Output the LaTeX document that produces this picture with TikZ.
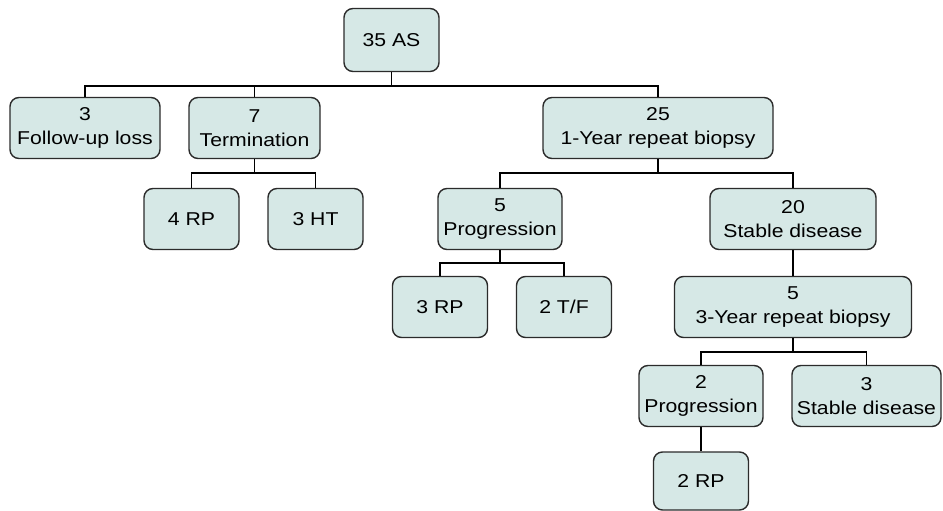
\documentclass[tikz,border=0pt]{standalone}
\usepackage{fontspec}
\setmainfont{Liberation Sans}[FakeStretch=1.14]
\definecolor{boxfill}{HTML}{D6E8E6}
\definecolor{boxline}{HTML}{2B2B2B}

\begin{document}
\begin{tikzpicture}[
    x=1pt, y=-1pt,
    box/.style={rectangle, rounded corners=9pt, draw=boxline, fill=boxfill, line width=1.4pt,
        minimum width=#1, minimum height=61pt, inner sep=2pt, align=center,
        font=\fontsize{18.6}{24}\selectfont},
    link/.style={line width=1.5pt, draw=black}
]
\useasboundingbox (0,0) rectangle (943,511);

% root and first level
\node[box=95pt, minimum height=63pt] (AS) at (391.5, 40) {35 AS};
\node[box=150pt] (FL)   at ( 85.0, 128) {3\\Follow-up loss};
\node[box=131pt] (Term) at (254.5, 128) {7\\Termination};
\node[box=230pt] (Y1)   at (658.0, 128) {25\\1-Year repeat biopsy};

% second level
\node[box=95pt]  (RP4)   at (191.5, 219) {4 RP};
\node[box=95pt]  (HT3)   at (315.5, 219) {3 HT};
\node[box=124pt] (Prog5) at (500.0, 219) {5\\Progression};
\node[box=166pt] (Stab20) at (793.0, 219) {20\\Stable disease};

% third level
\node[box=95pt]  (RP3) at (440.0, 307) {3 RP};
\node[box=95pt]  (TF2) at (564.0, 307) {2 T/F};
\node[box=237pt] (Y3)  at (793.0, 307) {5\\3-Year repeat biopsy};

% fourth level
\node[box=124pt] (Prog2) at (701.0, 396) {2\\Progression};
\node[box=149pt] (Stab3) at (866.5, 396) {3\\Stable disease};
\node[box=95pt, minimum height=58pt] (RP2) at (701.0, 481) {2 RP};

% connectors
\draw[link] (AS.south) -- ++(0,14) -| (FL.north);
\draw[link] (AS.south) ++(0,14) -| (Term.north);
\draw[link] (AS.south) ++(0,14) -| (Y1.north);

\draw[link] (Term.south) -- ++(0,14) -| (RP4.north);
\draw[link] (Term.south) ++(0,14) -| (HT3.north);

\draw[link] (Y1.south) -- ++(0,14) -| (Prog5.north);
\draw[link] (Y1.south) ++(0,14) -| (Stab20.north);

\draw[link] (Prog5.south) -- ++(0,13) -| (RP3.north);
\draw[link] (Prog5.south) ++(0,13) -| (TF2.north);

\draw[link] (Stab20.south) -- (Y3.north);

\draw[link] (Y3.south) -- ++(0,14) -| (Prog2.north);
\draw[link] (Y3.south) ++(0,14) -| (Stab3.north);

\draw[link] (Prog2.south) -- (RP2.north);

\end{tikzpicture}
\end{document}
